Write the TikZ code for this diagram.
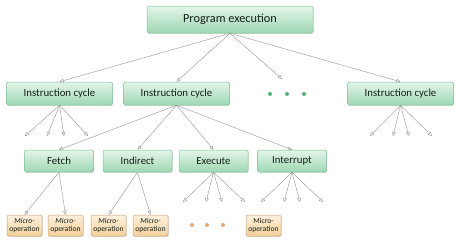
\documentclass[tikz,border=0pt]{standalone}
\usepackage{fontspec}
\setmainfont{Carlito}
\usetikzlibrary{arrows.meta, shadows}

\definecolor{grnTop}{HTML}{E3F5E9}
\definecolor{grnBot}{HTML}{9FD7B3}
\definecolor{grnLine}{HTML}{80BE97}
\definecolor{orgTop}{HTML}{FEF1DD}
\definecolor{orgBot}{HTML}{F4D099}
\definecolor{orgLine}{HTML}{C29D74}
\definecolor{dotGrn}{HTML}{4FB577}
\definecolor{dotOrg}{HTML}{E9A77A}
\definecolor{txtDark}{HTML}{15201A}

\begin{document}
\begin{tikzpicture}[
    x=1pt, y=-1pt,
    >={Triangle[open, length=4pt, width=3.6pt]},
    every node/.style={align=center, text=txtDark},
    box/.style={draw=grnLine, line width=0.5pt, rounded corners=1.5pt, top color=grnTop, bottom color=grnBot,
        drop shadow={shadow xshift=0.7pt, shadow yshift=-0.9pt, opacity=0.25, fill=black!50},
        inner sep=0pt, minimum height=22pt, font=\fontsize{10.8}{12}\selectfont},
    topbox/.style={box, minimum width=166pt, minimum height=27pt, font=\fontsize{12.3}{14}\selectfont},
    cycle/.style={box, minimum width=106pt, minimum height=23pt},
    phase/.style={box, minimum width=69pt},
    micro/.style={box, draw=orgLine, top color=orgTop, bottom color=orgBot, minimum width=35pt, minimum height=21pt,
        font=\fontsize{7.6}{7.8}\selectfont},
    gdot/.style={circle, fill=dotGrn, inner sep=0pt, minimum size=4pt},
    odot/.style={circle, fill=dotOrg, inner sep=0pt, minimum size=4pt},
    link/.style={->, gray!85, line width=0.4pt}
]
\useasboundingbox (0,0) rectangle (460,244);

% =========================================================
% Top level
% =========================================================
\node[topbox] (prog) at (230,19.5) {Program execution};

\node[cycle] (ic1) at (59.5,93.5)  {Instruction cycle};
\node[cycle] (ic2) at (176.5,93.5) {Instruction cycle};
\node[cycle] (ic4) at (400.5,93.5) {Instruction cycle};

% dots in between
\node[gdot] (gd1) at (270,94) {};
\node[gdot] (gd2) at (287,94) {};
\node[gdot] (gd3) at (304,94) {};
\coordinate (icdots) at (282,79);

\draw[link] (prog.south) -- (ic1.north);
\draw[link] (prog.south) -- (ic2.north);
\draw[link] (prog.south) -- (icdots);
\draw[link] (prog.south) -- (ic4.north);

% open fans below the outer cycles
\foreach \x [count=\i] in {25,47,64,88} {
    \coordinate (fa\i) at (\x,136);
    \draw[link] (ic1.south) -- (fa\i);
}
\foreach \x [count=\i] in {370,393,409,432} {
    \coordinate (fb\i) at (\x,136);
    \draw[link] (ic4.south) -- (fb\i);
}

% =========================================================
% Phases of one cycle
% =========================================================
\node[phase] (fetch)  at (59,161)    {Fetch};
\node[phase] (indir)  at (137.5,161) {Indirect};
\node[phase] (exec)   at (213.5,161) {Execute};
\node[phase] (intr)   at (292,161)   {Interrupt};

\draw[link] (ic2.south) -- (fetch.north);
\draw[link] (ic2.south) -- (indir.north);
\draw[link] (ic2.south) -- (exec.north);
\draw[link] (ic2.south) -- (intr.north);

% =========================================================
% Micro-operations
% =========================================================
\node[micro] (m1) at (24.5,225.5)  {\textit{Micro-}\\operation};
\node[micro] (m2) at (65.5,225.5)  {\textit{Micro-}\\operation};
\node[micro] (m3) at (108.5,225.5) {\textit{Micro-}\\operation};
\node[micro] (m4) at (150.5,225.5) {\textit{Micro-}\\operation};
\node[micro] (m5) at (263.5,225.5) {Micro-\\operation};

\draw[link] (fetch.south) -- (m1.north);
\draw[link] (fetch.south) -- (m2.north);
\draw[link] (indir.south) -- (m3.north);
\draw[link] (indir.south) -- (m4.north);

\foreach \x [count=\i] in {183,206,222,245} {
    \coordinate (fc\i) at (\x,202);
    \draw[link] (exec.south) -- (fc\i);
}
\foreach \x [count=\i] in {261,284,300,323} {
    \coordinate (fd\i) at (\x,202);
    \draw[link] (intr.south) -- (fd\i);
}

\node[odot] (od1) at (192,225) {};
\node[odot] (od2) at (207,225) {};
\node[odot] (od3) at (223,225) {};

\end{tikzpicture}
\end{document}
